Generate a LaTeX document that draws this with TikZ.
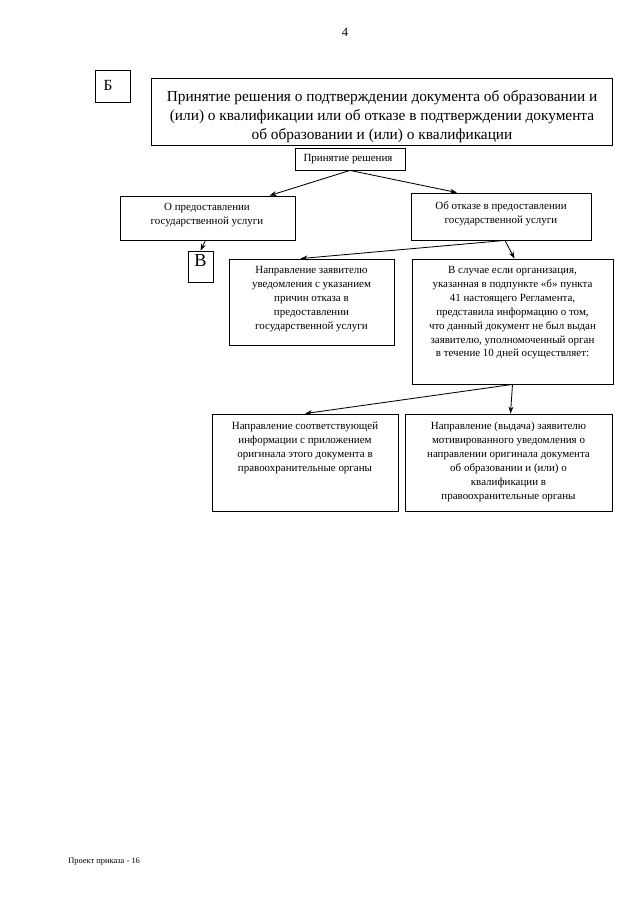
\documentclass[tikz,border=0pt]{standalone}
\usepackage{fontspec}
\setmainfont{Liberation Serif}
\usetikzlibrary{arrows.meta,fit,calc}

\begin{document}
\begin{tikzpicture}[x=0.025cm, y=-0.025cm,
        box/.style={draw, line width=0.6pt, inner sep=0pt},
        txt/.style={anchor=north, align=center, inner sep=0pt, font=\fontsize{7.8}{9.9}\selectfont},
        arr/.style={-{Stealth[length=5pt, width=3.5pt]}, line width=0.6pt}]
    \useasboundingbox (0,0) rectangle (640,905);

    \node[font=\fontsize{9}{10}\selectfont] (pagenum) at (345,32) {4};

    \node[box, fit={(95,70) (130,102)}] (secB) {};
    \node[font=\fontsize{11}{12}\selectfont] (secBtext) at (108,85) {Б};

    \node[box, fit={(151,78) (612,145)}] (title) {};
    \node[txt, font=\fontsize{10.9}{13.5}\selectfont] (titletext) at (382,90)
        {Принятие решения о подтверждении документа об образовании и\\
         (или) о квалификации или об отказе в подтверждении документа\\
         об образовании и (или) о квалификации};

    \node[box, fit={(295,148) (405,170)}] (decide) {};
    \node[txt] (decidetext) at (348,154) {Принятие решения};

    \node[box, fit={(120,196) (295,240)}] (grant) {};
    \node[txt] (granttext) at (207,203) {О предоставлении\\государственной услуги};

    \node[box, fit={(411,193) (591,240)}] (refuse) {};
    \node[txt] (refusetext) at (501,201) {Об отказе в предоставлении\\государственной услуги};

    \node[box, fit={(188,251) (213,282)}, font=\fontsize{13}{14}\selectfont] (secV) {В};

    \node[box, fit={(229,259) (394,345)}] (reason) {};
    \node[txt] (reasontext) at (311.5,266)
        {Направление заявителю\\уведомления с указанием\\причин отказа в\\предоставлении\\государственной услуги};

    \node[box, fit={(412,259) (613,384)}] (ifcase) {};
    \node[txt] (ifcasetext) at (512.5,266)
        {В случае если организация,\\указанная в подпункте «б» пункта\\41 настоящего Регламента,\\представила информацию о том,\\что данный документ не был выдан\\заявителю, уполномоченный орган\\в течение 10 дней осуществляет:};

    \node[box, fit={(212,414) (398,511)}] (police) {};
    \node[txt] (policetext) at (305,422)
        {Направление соответствующей\\информации с приложением\\оригинала этого документа в\\правоохранительные органы};

    \node[box, fit={(405,414) (612,511)}] (notify) {};
    \node[txt] (notifytext) at (508.5,422)
        {Направление (выдача) заявителю\\мотивированного уведомления о\\направлении оригинала документа\\об образовании и (или) о\\квалификации в\\правоохранительные органы};

    \draw[arr] (decide.south) -- ($(grant.north)+(62,0)$);
    \draw[arr] (decide.south) -- ($(refuse.north)+(-44,0)$);
    \draw[arr] ($(grant.south)+(-2,0)$) -- (secV.north);
    \draw[arr] ($(refuse.south)+(4,0)$) -- ($(reason.north)+(-11,0)$);
    \draw[arr] ($(refuse.south)+(4,0)$) -- ($(ifcase.north)+(2,0)$);
    \draw[arr] (ifcase.south) -- ($(police.north)+(0,0)$);
    \draw[arr] (ifcase.south) -- ($(notify.north)+(2,0)$);

    \node[anchor=west, inner sep=0pt, font=\fontsize{6}{7}\selectfont] (footer) at (68,862) {Проект приказа - 16};
\end{tikzpicture}
\end{document}
